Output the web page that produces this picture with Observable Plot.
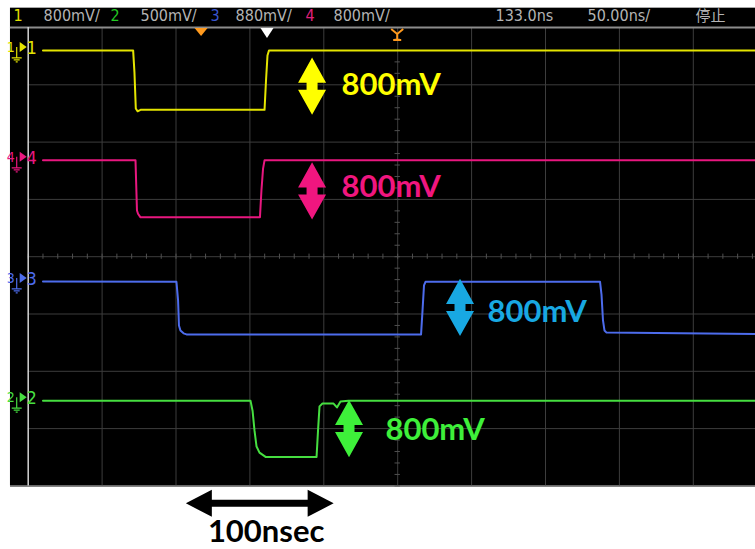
<!DOCTYPE html>
<html>
<head>
<meta charset="utf-8">
<script src="https://cdn.jsdelivr.net/npm/d3@7"></script>
<script src="https://cdn.jsdelivr.net/npm/@observablehq/plot@0.6"></script>
<style>
  html, body { margin: 0; padding: 0; background: #fff; }
  #scope svg { display: block; }
</style>
</head>
<body>
<div id="scope"></div>
<script>
// Four-channel scope capture. Time in ns relative to screen centre (50 ns/div),
// vertical position in mV at 800 mV/div.
const timeGrid = [-250, -200, -150, -100, -50, 0, 50, 100, 150, 200, 250];
const voltGrid = [-3200, -2400, -1600, -800, 0, 800, 1600, 2400, 3200];
const screenTime = [-262, 262];
const screenVolt = [-3200, 3470];

// Channel traces as [ns, mV] vertices
const ch1Trace = [[-240, 2880], [-179, 2880], [-178.1, 2570], [-177.2, 2070], [-176, 2030], [-174, 2050],
  [-90.1, 2050], [-89.1, 2460], [-88.1, 2810], [-87.1, 2880], [250, 2880]];
const ch4Trace = [[-240, 1345], [-177.4, 1345], [-176.4, 645], [-175.7, 600], [-174, 550],
  [-93.2, 550], [-92.2, 925], [-91.1, 1230], [-90.1, 1345], [250, 1345]];
const ch3Trace = [[-240, -345], [-149.7, -350], [-148.6, -610], [-148, -960], [-147, -1030], [-144.9, -1070], [-142.9, -1085],
  [15.8, -1085], [16.8, -750], [17.8, -400], [18.8, -350], [136.9, -350], [137.9, -530], [138.9, -890],
  [139.9, -1030], [141.3, -1060], [250, -1080]];
const ch2Trace = [[-240, -2010], [-99.6, -2010], [-98.2, -2150], [-96.9, -2425], [-95.5, -2650], [-93.5, -2735], [-89.4, -2795],
  [-54.9, -2795], [-53.9, -2425], [-52.9, -2090], [-50.9, -2050], [-43.4, -2050], [-41.1, -2105], [-38.7, -2020],
  [-33.3, -2010], [250, -2010]];

const traceColors = {ch1: "#e4e400", ch2: "#46de40", ch3: "#4d6cec", ch4: "#e8177f"};

// Left-edge channel markers (id, colour, reference level in mV)
const channelIds = ["1", "4", "3", "2"];
const channelColors = [traceColors.ch1, traceColors.ch4, traceColors.ch3, traceColors.ch2];
const channelLevels = [2880, 1345, -345, -2010];

// Amplitude annotations: arrow centre (ns, mV), swing in mV
const ampTimes = [-57.6, -57.6, 42.5, -32.6];
const ampCentres = [2374, 912, -715, -2406];
const ampSwing = 800;
const ampColors = ["#ffff00", "#f0167f", "#18a8e2", "#3ef03a"];
const ampLabelTimes = [-38, -38, 60.8, -8.3];
const ampLabelVolts = [2251, 831, -915, -2566];

// Time-span annotation
const spanCentre = -93;
const spanNs = 100;
const spanVolt = -3450;
const spanLabelTime = -89;
const spanLabelVolt = -3986;

// Status bar across the top
const headerTexts = ["1", "800mV/", "2", "500mV/", "3", "880mV/", "4", "800mV/", "133.0ns", "50.00ns/"];
const headerTimes = [-259.9, -239.6, -194.3, -174.0, -126.7, -109.7, -62.4, -43.4, 66.2, 128.4];
const headerColors = ["#e0e000", "#b4b4b4", "#22c822", "#b4b4b4", "#3a56d0", "#b4b4b4", "#e0207c", "#b4b4b4", "#b4b4b4", "#b4b4b4"];
const headerVolt = 3284;
const statusText = "停止";
const statusTime = 201.5;

// Marker row under the status bar
const markerTimes = [-132.7, -88.1];
const markerColors = ["#ff9a1e", "#ffffff"];
const triggerTime = 0;

const minorVolts = d3.range(-3200, 3201, 160);
const minorTimes = d3.range(-250, 251, 10);

const ampRows = ampTimes.map((t, i) => ({t, mid: ampCentres[i], color: ampColors[i],
  labelT: ampLabelTimes[i], labelV: ampLabelVolts[i], text: `${ampSwing}mV`}));
const headerRows = headerTexts.map((text, i) => ({text, t: headerTimes[i], color: headerColors[i]}));
const channelRows = channelIds.map((id, i) => ({id, color: channelColors[i], level: channelLevels[i]}));

// Filled double-headed vertical arrows spanning the swing
function ampArrows(index, {x, y}) {
  const g = d3.create("svg:g");
  for (const a of ampRows) {
    const cx = x(a.t), y0 = y(a.mid + ampSwing / 2), y1 = y(a.mid - ampSwing / 2), ym = (y0 + y1) / 2;
    const w = 14, n = 5.5, h = 3.5;
    g.append("path")
      .attr("d", `M${cx},${y0}L${cx + w},${ym - h}L${cx + n},${ym - h}L${cx + n},${ym + h}L${cx + w},${ym + h}L${cx},${y1}L${cx - w},${ym + h}L${cx - n},${ym + h}L${cx - n},${ym - h}L${cx - w},${ym - h}Z`)
      .attr("fill", a.color);
  }
  return g.node();
}

// Horizontal double-headed arrow covering the time span
function spanArrow(index, {x, y}) {
  const x1 = x(spanCentre - spanNs / 2), x2 = x(spanCentre + spanNs / 2), yc = y(spanVolt);
  const L = 26, h = 13.5, s = 3.5;
  return d3.create("svg:path")
    .attr("d", `M${x1},${yc}L${x1 + L},${yc - h}L${x1 + L},${yc - s}L${x2 - L},${yc - s}L${x2 - L},${yc - h}L${x2},${yc}L${x2 - L},${yc + h}L${x2 - L},${yc + s}L${x1 + L},${yc + s}L${x1 + L},${yc + h}Z`)
    .attr("fill", "#000")
    .node();
}

// Channel reference markers at the left edge and the trigger marker on top
function channelMarkers(index, {x, y}) {
  const g = d3.create("svg:g");
  const x0 = x(-250);
  for (const c of channelRows) {
    const yc = y(c.level) - 3;
    g.append("text").attr("x", x0 - 17).attr("y", yc + 5).attr("fill", c.color)
      .attr("font-family", "Liberation Sans Narrow, DejaVu Sans Condensed, sans-serif").attr("font-size", 14).text(c.id);
    g.append("path").attr("d", `M${x0 - 8},${yc - 5}L${x0 - 1},${yc}L${x0 - 8},${yc + 5}Z`).attr("fill", c.color);
    g.append("path").attr("d", `M${x0 - 11},${yc}V${yc + 11}M${x0 - 16},${yc + 11}H${x0 - 6}M${x0 - 14},${yc + 13}H${x0 - 8}M${x0 - 12},${yc + 15}H${x0 - 10}`)
      .attr("stroke", c.color).attr("stroke-width", 1.2).attr("fill", "none");
    g.append("text").attr("x", x0 + 4).attr("y", yc + 7).attr("fill", c.color)
      .attr("font-family", "Liberation Sans Narrow, DejaVu Sans Condensed, sans-serif").attr("font-size", 18).text(c.id);
  }
  for (let i = 0; i < markerTimes.length; ++i) {
    const cx = x(markerTimes[i]), top = y(3200) + 1;
    const s = i === 0 ? 6.5 : 6.5, hgt = i === 0 ? 8 : 10;
    g.append("path").attr("d", `M${cx - s},${top}L${cx + s},${top}L${cx},${top + hgt}Z`).attr("fill", markerColors[i]);
  }
  const tx = x(triggerTime), top = y(3200) + 2;
  g.append("path").attr("d", `M${tx - 6},${top}L${tx},${top + 5}L${tx + 6},${top}M${tx},${top + 5}V${top + 11}M${tx - 4},${top + 11}H${tx + 4}`)
    .attr("stroke", "#ff9a1e").attr("stroke-width", 2).attr("fill", "none");
  return g.node();
}

const traceLine = (data, color) => Plot.line(data, {x: d => d[0], y: d => d[1], stroke: color, strokeWidth: 2, strokeLinejoin: "round"});

const chart = Plot.plot({
  width: 755,
  height: 549,
  margin: 0,
  style: {background: "#fff", overflow: "hidden"},
  x: {domain: [-250, 250], range: [27.7, 766.7], axis: null},
  y: {domain: [-3200, 3200], range: [485.4, 27], axis: null},
  color: {type: "identity"},
  marks: [
    Plot.rect([0], {x1: screenTime[0], x2: screenTime[1], y1: screenVolt[0], y2: screenVolt[1], fill: "#000"}),
    Plot.ruleX(timeGrid.slice(1), {y1: -3200, y2: 3200, stroke: "#3d3d3d", strokeWidth: 1}),
    Plot.ruleY(voltGrid.slice(1, -1), {x1: -250, x2: 260, stroke: "#3d3d3d", strokeWidth: 1}),
    Plot.ruleY(minorVolts, {x1: -1.8, x2: 1.8, stroke: "#505050"}),
    Plot.ruleX(minorTimes, {y1: -36, y2: 36, stroke: "#505050"}),
    Plot.ruleY([-3200], {x1: -262, x2: 262, stroke: "#5a5a5a", strokeWidth: 1.5}),
    Plot.ruleY([3200], {x1: -262, x2: 262, stroke: "#8c8c8c", strokeWidth: 2}),
    Plot.ruleX([-250], {y1: -3200, y2: 3200, stroke: "#d4d4d4", strokeWidth: 1.5}),
    traceLine(ch1Trace, traceColors.ch1),
    traceLine(ch4Trace, traceColors.ch4),
    traceLine(ch3Trace, traceColors.ch3),
    traceLine(ch2Trace, traceColors.ch2),
    ampArrows,
    Plot.text(ampRows, {x: "labelT", y: "labelV", text: "text", fill: "color", textAnchor: "start", lineAnchor: "bottom",
      fontSize: 31, fontWeight: "bold", fontFamily: "Lato, sans-serif"}),
    spanArrow,
    Plot.text([`${spanNs}nsec`], {x: spanLabelTime, y: spanLabelVolt, text: d => d, fill: "#000", textAnchor: "middle",
      lineAnchor: "bottom", fontSize: 31, fontFamily: "Lato, sans-serif", fontWeight: "bold"}),
    Plot.text(headerRows, {x: "t", y: headerVolt, text: "text", fill: "color", textAnchor: "start", lineAnchor: "bottom",
      fontSize: 16, fontFamily: "Liberation Sans Narrow, DejaVu Sans Condensed, sans-serif"}),
    Plot.text([statusText], {x: statusTime, y: headerVolt, text: d => d, fill: "#b4b4b4", textAnchor: "start", lineAnchor: "bottom",
      fontSize: 15, fontFamily: "Noto Sans CJK SC, sans-serif"}),
    channelMarkers
  ]
});

document.getElementById("scope").append(chart);
</script>
</body>
</html>
